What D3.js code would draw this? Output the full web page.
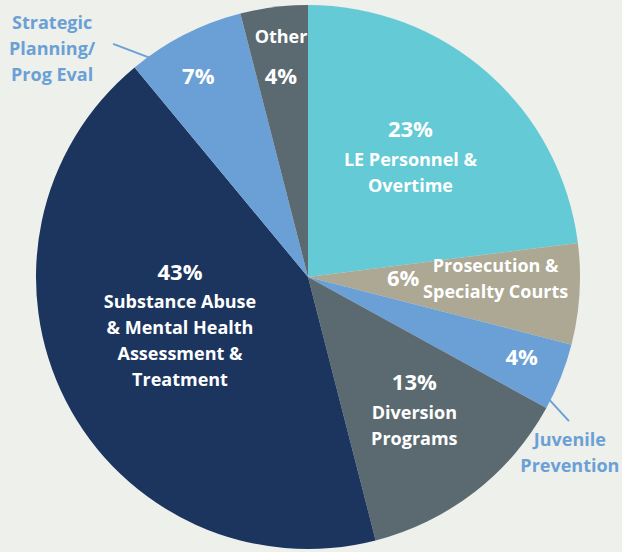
<!DOCTYPE html>
<html>
<head>
<meta charset="utf-8">
<script src="https://cdn.jsdelivr.net/npm/d3@7"></script>
<style>
  body { margin: 0; background: #eef0eb; }
  svg text { font-family: "Open Sans", "DejaVu Sans", sans-serif; font-weight: 700; }
</style>
</head>
<body>
<div id="chart"></div>
<script>
const categories = ["LE Personnel & Overtime", "Prosecution & Specialty Courts", "Juvenile Prevention",
    "Diversion Programs", "Substance Abuse & Mental Health Assessment & Treatment",
    "Strategic Planning/ Prog Eval", "Other"];
const values = [23, 6, 4, 13, 43, 7, 4];
const nameLines = [
    ["LE Personnel &", "Overtime"],
    ["Prosecution &", "Specialty Courts"],
    ["Juvenile", "Prevention"],
    ["Diversion", "Programs"],
    ["Substance Abuse", "& Mental Health", "Assessment &", "Treatment"],
    ["Strategic", "Planning/", "Prog Eval"],
    ["Other"]
];
const colors = ["#64cad6", "#aca893", "#6ba0d6", "#5b6a71", "#1b355f", "#6ba0d6", "#5b6a71"];

// label placement: angle (deg, clockwise from top) and radius as fraction of R
// mode: "below" = name under percent, "above" = name over percent, "side" / "outside" = separate spot
const labelPos = [
    { pct: [34.8, 0.66], mode: "below" },
    { pct: [90.6, 0.35], name: [90.6, 0.69], mode: "side" },
    { pct: [110.7, 0.84], name: [123.9, 1.16], mode: "outside", leader: [[116.8, 0.988], [118.9, 1.096]] },
    { pct: [134.7, 0.55], mode: "below" },
    { pct: [272.2, 0.471], mode: "below" },
    { pct: [331.3, 0.84], name: [311.8, 1.262], mode: "outside", leader: [[324.2, 0.993], [320.1, 1.117]] },
    { pct: [352.3, 0.745], name: [353.6, 0.89], mode: "above" }
];

const width = 622, height = 552;
const cx = 308, cy = 277, R = 272;

const svg = d3.select("#chart").append("svg")
    .attr("width", width)
    .attr("height", height);

const g = svg.append("g").attr("transform", `translate(${cx},${cy})`);

const pie = d3.pie().sort(null).value(d => d);
const arcs = pie(values);
const arc = d3.arc().innerRadius(0).outerRadius(R);

g.selectAll("path.slice")
    .data(arcs)
    .join("path")
    .attr("class", "slice")
    .attr("fill", (d, i) => colors[i])
    .attr("d", arc);

function polar(a, f) {
    const rad = a * Math.PI / 180;
    return [Math.sin(rad) * R * f, -Math.cos(rad) * R * f];
}

const pctSize = 22, nameSize = 18, lineH = 26;

labelPos.forEach((lp, i) => {
    const [px, py] = polar(lp.pct[0], lp.pct[1]);
    const pctText = values[i] + "%";
    if (lp.mode === "above") {
        const [nx, ny] = polar(lp.name[0], lp.name[1]);
        g.append("text").attr("x", nx).attr("y", ny).attr("dy", "0.35em")
            .attr("text-anchor", "middle").attr("fill", "#fff")
            .attr("font-size", nameSize).text(nameLines[i][0]);
    }
    g.append("text").attr("x", px).attr("y", py).attr("dy", "0.35em")
        .attr("text-anchor", "middle").attr("fill", "#fff")
        .attr("font-size", pctSize).text(pctText);

    if (lp.mode === "below") {
        nameLines[i].forEach((t, j) => {
            g.append("text").attr("x", px).attr("y", py + 30 + j * lineH).attr("dy", "0.35em")
                .attr("text-anchor", "middle").attr("fill", "#fff")
                .attr("font-size", nameSize).text(t);
        });
    } else if (lp.mode === "side" || lp.mode === "outside") {
        const [nx, ny] = polar(lp.name[0], lp.name[1]);
        const fill = lp.mode === "outside" ? colors[i] : "#fff";
        const n = nameLines[i].length;
        nameLines[i].forEach((t, j) => {
            g.append("text").attr("x", nx).attr("y", ny + (j - (n - 1) / 2) * lineH).attr("dy", "0.35em")
                .attr("text-anchor", "middle").attr("fill", fill)
                .attr("font-size", nameSize).text(t);
        });
        if (lp.leader) {
            const p1 = polar(lp.leader[0][0], lp.leader[0][1]);
            const p2 = polar(lp.leader[1][0], lp.leader[1][1]);
            g.append("line")
                .attr("x1", p1[0]).attr("y1", p1[1])
                .attr("x2", p2[0]).attr("y2", p2[1])
                .attr("stroke", colors[i]).attr("stroke-width", 2);
        }
    }
});
</script>
</body>
</html>
